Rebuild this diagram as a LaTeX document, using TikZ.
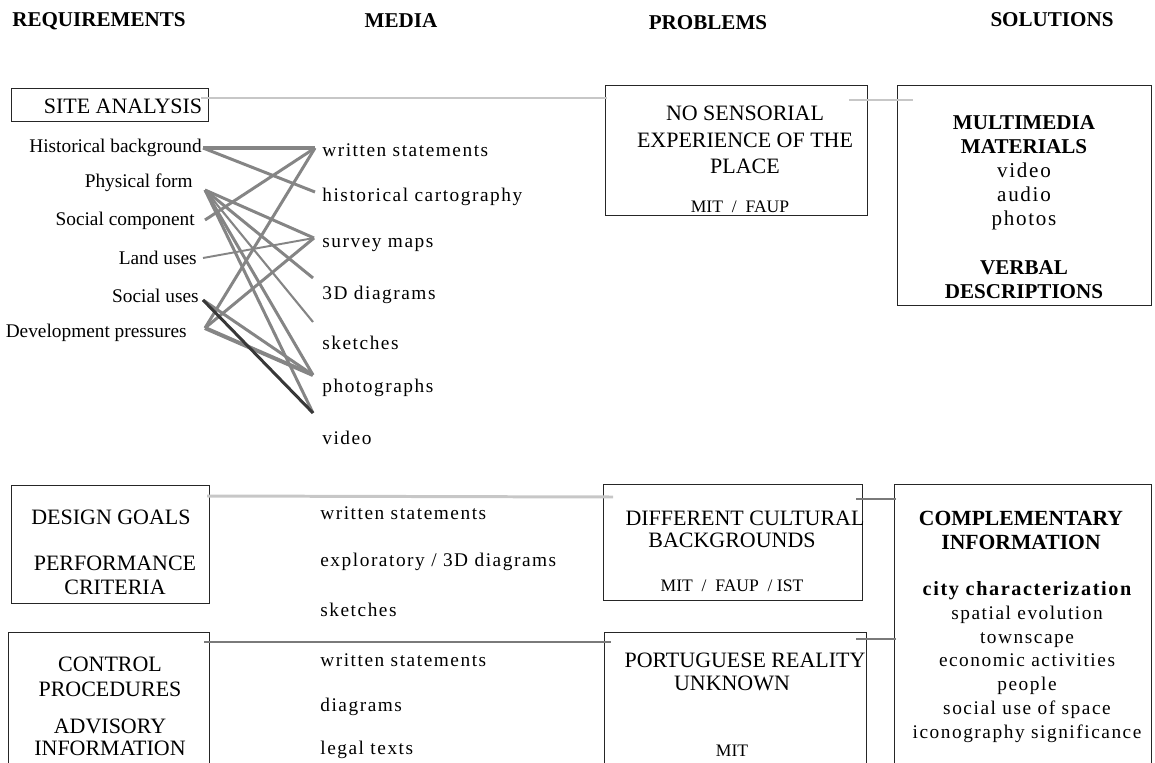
\documentclass[tikz,border=0pt]{standalone}
\usepackage{fontspec}
\setmainfont{Liberation Serif}
\newfontfamily\spacedserif[LetterSpace=8]{Liberation Serif}
\usetikzlibrary{positioning}

\tikzset{
  colhead/.style={font=\fontsize{12}{14}\selectfont\bfseries, inner sep=0pt},
  frame/.style={draw=black!85, line width=0.7pt, anchor=north west, inner sep=0pt},
  caps/.style={font=\fontsize{12.5}{14}\selectfont, align=center, inner sep=0pt},
  partner/.style={font=\fontsize{10}{12}\selectfont, inner sep=0pt},
  reqitem/.style={font=\fontsize{11}{13}\selectfont, anchor=east, inner sep=0pt},
  mediaitem/.style={font=\spacedserif\fontsize{11}{13}\selectfont, anchor=west, inner sep=0pt},
  wire/.style={draw=black!48, line width=1.7pt},
  pale/.style={draw=black!22, line width=1.7pt},
  mid/.style={draw=black!52, line width=1.7pt},
}

\begin{document}
\begin{tikzpicture}[x=0.02cm, y=-0.02cm]
\clip (0,0) rectangle (1155,763);

% column titles
\node[colhead] (h-req)  at (99,21)   {REQUIREMENTS};
\node[colhead] (h-med)  at (401,21)  {MEDIA};
\node[colhead] (h-prob) at (708,23)  {PROBLEMS};
\node[colhead] (h-sol)  at (1052,20) {SOLUTIONS};

% ---- site analysis block
\node[frame, minimum width=3.94cm, minimum height=0.66cm] (site) at (11,88) {};
\node[caps] (t-site) at (123,106) {SITE ANALYSIS};

\node[reqitem] (q-hist) at (202,148) {Historical background};
\node[reqitem] (q-phys) at (193,183) {Physical form};
\node[reqitem] (q-socc) at (195,221) {Social component};
\node[reqitem] (q-land) at (197,258) {Land uses};
\node[reqitem] (q-socu) at (199,296) {Social uses};
\node[reqitem] (q-devp) at (187,333) {Development pressures};

\node[mediaitem] (m-writ) at (322,150) {written statements};
\node[mediaitem] (m-cart) at (322,197) {historical cartography};
\node[mediaitem] (m-surv) at (322,245) {survey maps};
\node[mediaitem] (m-tdd)  at (322,295) {3D diagrams};
\node[mediaitem] (m-sket) at (322,343) {sketches};
\node[mediaitem] (m-phot) at (322,388) {photographs};
\node[mediaitem] (m-vid)  at (322,438) {video};

% wire ends
\coordinate (hist) at (203,148);
\coordinate (phys) at (205,190);
\coordinate (socc) at (205,220);
\coordinate (land) at (203,258);
\coordinate (socu) at (203,300);
\coordinate (devp) at (205,328);
\coordinate (writ) at (315,148);
\coordinate (cart) at (315,192);
\coordinate (surv) at (314,238);
\coordinate (tdd)  at (313,278);
\coordinate (sket) at (313,322);
\coordinate (phot) at (313,375);
\coordinate (vid)  at (313,413);

\foreach \a/\b in {hist/cart, socc/writ, devp/writ, phys/surv, phys/tdd,
                   devp/surv, phys/phot, phys/vid, socu/phot}
  \draw[wire] (\a) -- (\b);
\draw[wire, line width=2.3pt] (hist) -- (writ);
\draw[wire, line width=2.3pt] (devp) -- (phot);
\draw[wire, line width=1.2pt] (phys) -- (sket);
\draw[wire, line width=1.1pt] (land) -- (surv);
\draw[wire, draw=black!78] (socu) -- (vid);

% ---- problem / solution, top row
\node[frame, minimum width=5.24cm, minimum height=2.6cm] (nosens) at (605,85) {};
\node[caps, font=\fontsize{12.5}{15}\selectfont] (t-nosens) at (745,140)
  {NO SENSORIAL\\EXPERIENCE OF THE\\PLACE};
\node[partner] (p-nosens) at (740,207) {MIT~~/~~FAUP};

\node[frame, minimum width=5.08cm, minimum height=4.4cm] (multi) at (897,85) {};
\node[align=center, inner sep=0pt, font=\fontsize{12}{13.7}\selectfont] (t-multi) at (1024,207)
  {\textbf{MULTIMEDIA}\\ \textbf{MATERIALS}\\ {\spacedserif video}\\ {\spacedserif audio}\\
   {\spacedserif photos}\\[14pt] \textbf{VERBAL}\\ \textbf{DESCRIPTIONS}};

\draw[pale] ([shift={(-8,10)}]site.north east) -- ([shift={(2,13)}]nosens.north west);
\draw[pale] ([shift={(-19,15)}]nosens.north east) -- ([shift={(16,15)}]multi.north west);

% ---- design goals / performance criteria
\node[frame, minimum width=3.96cm, minimum height=2.36cm] (design) at (11,485) {};
\node[caps] (t-goals) at (111,517) {DESIGN GOALS};
\node[caps, font=\fontsize{12.5}{13.7}\selectfont] (t-perf) at (115,575) {PERFORMANCE\\CRITERIA};

\node[mediaitem] (m-writ2) at (320,513) {written statements};
\node[mediaitem] (m-expl)  at (320,562) {exploratory / 3D diagrams};
\node[mediaitem] (m-sket2) at (320,610) {sketches};

\node[frame, minimum width=5.18cm, minimum height=2.32cm] (cultur) at (603,484) {};
\node[caps] (t-cultur1) at (745,518) {DIFFERENT CULTURAL};
\node[caps] (t-cultur2) at (732,540) {BACKGROUNDS};
\node[partner] (p-cultur) at (732,586) {MIT~~/~~FAUP~~/~IST};

% ---- control procedures / advisory information
\node[frame, minimum width=4.02cm, minimum height=3.16cm] (control) at (8,632) {};
\node[caps, font=\fontsize{12.5}{14.2}\selectfont] (t-ctrl) at (110,677) {CONTROL\\PROCEDURES};
\node[caps, font=\fontsize{12.5}{12.5}\selectfont] (t-advi) at (110,737) {ADVISORY\\INFORMATION};

\node[mediaitem] (m-writ3) at (320,660) {written statements};
\node[mediaitem] (m-diag)  at (320,707) {diagrams};
\node[mediaitem] (m-legal) at (320,750) {legal texts};

\node[frame, minimum width=5.24cm, minimum height=3.16cm] (portug) at (604,632) {};
\node[caps] (t-portug1) at (745,660) {PORTUGUESE REALITY};
\node[caps] (t-portug2) at (732,683) {UNKNOWN};
\node[partner] (p-portug) at (732,751) {MIT};

% ---- complementary information
\node[frame, minimum width=5.14cm, minimum height=6.12cm] (compl) at (894,484) {};
\node[align=center, inner sep=0pt, font=\fontsize{12.3}{13.7}\selectfont\bfseries] (t-compl) at (1021,530)
  {COMPLEMENTARY\\INFORMATION};
\node[align=center, inner sep=0pt, font=\spacedserif\fontsize{11}{13.5}\selectfont] (t-city) at (1027,662)
  {{\fontsize{11.5}{13.5}\selectfont\bfseries city characterization}\\ spatial evolution\\ townscape\\
   economic activities\\ people\\ social use of space\\ iconography significance};

\draw[pale] ([shift={(-3,11)}]design.north east) -- ([shift={(10,13)}]cultur.north west);
\draw[mid]  ([shift={(-6,10)}]control.north east) -- ([shift={(7,10)}]portug.north west);
\draw[mid]  ([shift={(-7,15)}]cultur.north east) -- ([shift={(2,15)}]compl.north west);
\draw[mid]  ([shift={(-11,7)}]portug.north east) -- ([shift={(2,155)}]compl.north west);
\end{tikzpicture}
\end{document}
